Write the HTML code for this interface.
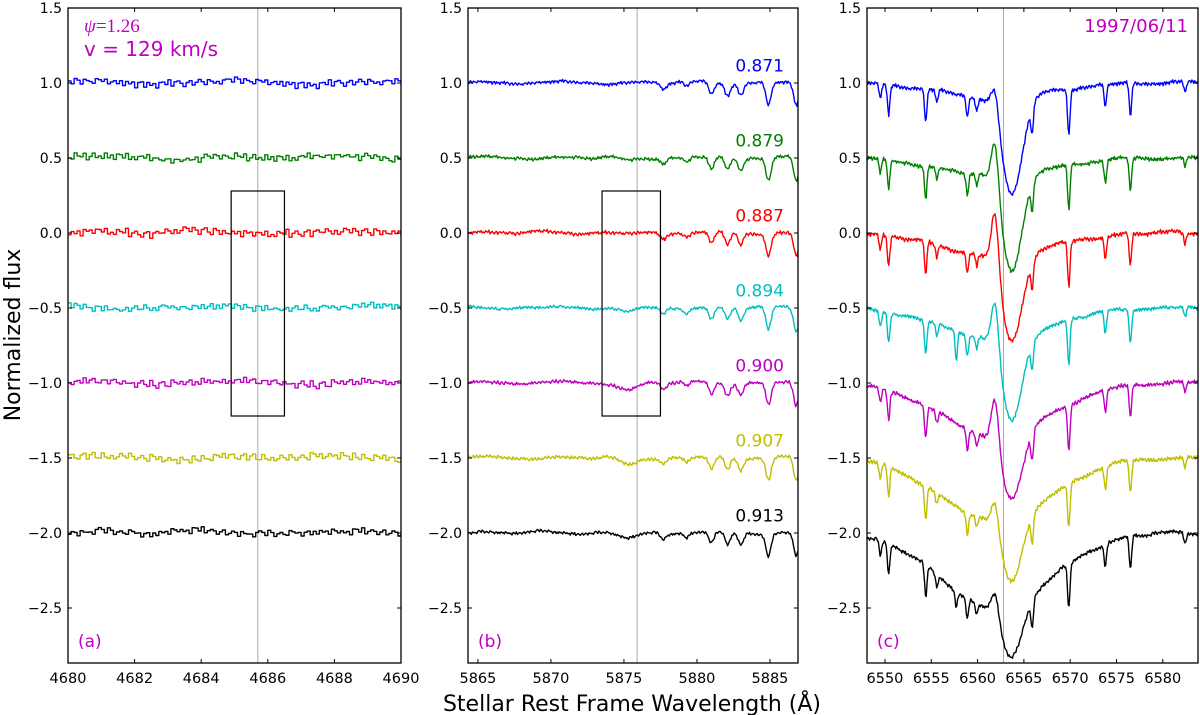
<!DOCTYPE html>
<html><head><meta charset="utf-8">
<style>
body{margin:0;background:#fff;}
svg{display:block;font-family:"DejaVu Sans","Liberation Sans",sans-serif;}
</style></head>
<body>
<svg id="fig" width="1200" height="715" viewBox="0 0 1200 715" xmlns="http://www.w3.org/2000/svg">
<rect width="1200" height="715" fill="#fff"/>
<g id="plots"></g>
<text x="14" y="335" transform="rotate(-90 14 335)" text-anchor="middle" dominant-baseline="middle" font-size="22">Normalized flux</text>
<text x="632" y="711" text-anchor="middle" font-size="22">Stellar Rest Frame Wavelength (Å)</text>
<text x="84" y="32" font-family="Liberation Serif,serif" font-style="italic" font-size="19" fill="#bf00bf">ψ<tspan font-style="normal">=1.26</tspan></text>
<text x="84" y="56" font-size="20" fill="#bf00bf">v = 129 km/s</text>
<text x="1188" y="32" text-anchor="end" font-size="18" fill="#bf00bf">1997/06/11</text>
</svg>
<script>
// ---- data ----
const offsets = [1.0, 0.5, 0.0, -0.5, -1.0, -1.5, -2.0];
const colors = ["#0000ff","#008000","#ff0000","#00bfbf","#bf00bf","#bfbf00","#000000"];
const phases = ["0.871","0.879","0.887","0.894","0.900","0.907","0.913"];
const yTicks = [1.5, 1.0, 0.5, 0.0, -0.5, -1.0, -1.5, -2.0, -2.5];
const yTickLabels = ["1.5","1.0","0.5","0.0","\u22120.5","\u22121.0","\u22121.5","\u22122.0","\u22122.5"];
const ticksA = [4680,4682,4684,4686,4688,4690];
const ticksB = [5865,5870,5875,5880,5885];
const ticksC = [6550,6555,6560,6565,6570,6575,6580];
// hand-read small noise pattern (units of amplitude)
const jitter = [0.3,-0.5,0.8,0.1,-0.9,0.4,0.6,-0.2,-0.7,0.9,0.2,-0.4,0.5,-0.8,0.0,0.7,-0.3,0.4,-0.6,0.9,-0.1,0.3,-0.9,0.5,0.2,-0.5,0.8,-0.3,0.1,-0.7,0.6,0.3,-0.4,0.9,-0.8,0.2,0.5,-0.1,-0.6,0.4,0.7,-0.9,0.1,0.6,-0.3,-0.5,0.8,0.0,-0.2,0.4,-0.7,0.3,0.9];
// slow wander pattern (units of amplitude)
const wander = [0.2,0.6,0.1,-0.5,-0.3,0.4,0.8,0.3,-0.2,-0.7,-0.1,0.5,0.2,-0.4,0.6,0.9,0.1,-0.6,-0.2,0.3];
// panel b telluric/stellar lines
const bLineCenters = [5877.7, 5879.3, 5881.0, 5882.1, 5883.0, 5884.9, 5886.8];
const bLineDepths  = [0.04, 0.03, 0.08, 0.08, 0.08, 0.15, 0.16];
const bHeDepth = [0.0, 0.02, 0.01, 0.03, 0.05, 0.05, 0.04];
// panel c narrow lines
const cLineCenters = [6549.5, 6550.4, 6554.4, 6555.6, 6558.9, 6559.9, 6565.9, 6569.85, 6573.8, 6576.5, 6582.4];
const cLineDepths  = [0.1, 0.2, 0.22, 0.08, 0.14, 0.08, 0.18, 0.3, 0.15, 0.22, 0.07];
const cExtra57 = [0.0, 0.0, 0.0, 0.2, 0.0, 0.0, 0.1];
// H-alpha components per spectrum
const broadDepth = [0.1, 0.12, 0.15, 0.2, 0.35, 0.42, 0.5];
const emisHeight = [0.2, 0.36, 0.41, 0.36, 0.34, 0.21, 0.17];
const absDepth   = [0.65, 0.63, 0.58, 0.56, 0.44, 0.41, 0.35];

// ---- layout ----
const NS="http://www.w3.org/2000/svg";
const root=document.getElementById('plots');
const TOP=8, BOT=663;
function yS(v){return TOP+(1.5-v)*150;}
function mk(tag,attrs,parent){const e=document.createElementNS(NS,tag);for(const k in attrs)e.setAttribute(k,attrs[k]);(parent||root).appendChild(e);return e;}
const g=(l,c,s)=>Math.exp(-((l-c)*(l-c))/(2*s*s));

const panels=[
 {id:'a',x0:68,x1:401,xmin:4680,xmax:4690,ticks:ticksA,vline:4685.7,box:[4684.9,4686.5],n:110,step:true,amp:0.022,wamp:0.02,wlen:9},
 {id:'b',x0:468,x1:798,xmin:5864.32,xmax:5886.92,ticks:ticksB,vline:5875.9,box:[5873.5,5877.5],n:300,step:false,amp:0.01,wamp:0.015,wlen:14},
 {id:'c',x0:867,x1:1198,xmin:6548.06,xmax:6583.8,ticks:ticksC,vline:6562.8,box:null,n:380,step:false,amp:0.012,wamp:0.015,wlen:14}
];

function wand(p,k,i){
  const t=(i+k*5*p.wlen)/p.wlen;
  const a=Math.floor(t), f=t-a;
  const w0=wander[a%wander.length], w1=wander[(a+1)%wander.length];
  return (w0+(w1-w0)*f)*p.wamp;
}

function flux(p,k,l,i){
  const j=jitter[(i+k*7)%jitter.length]*p.amp+jitter[(i*3+k*11)%jitter.length]*p.amp*0.5+wand(p,k,i);
  let f=offsets[k]+j;
  if(p.id==='b'){
    for(let m=0;m<bLineCenters.length;m++) f-=bLineDepths[m]*g(l,bLineCenters[m],0.18);
    f-=bHeDepth[k]*g(l,5875.3,0.6);
  } else if(p.id==='c'){
    for(let m=0;m<cLineCenters.length;m++) f-=cLineDepths[m]*g(l,cLineCenters[m],0.13);
    f-=cExtra57[k]*g(l,6557.7,0.12);
    f-=broadDepth[k]*g(l,6562,6);
    f+=emisHeight[k]*g(l,6561.9,0.4);
    f-=absDepth[k]*g(l,6563.7,1.1);
  }
  return f;
}

panels.forEach(p=>{
  const xs=v=>p.x0+(v-p.xmin)/(p.xmax-p.xmin)*(p.x1-p.x0);
  const pg=mk('g',{});
  
  
  const cid='clip'+p.id;
  const cp=mk('clipPath',{id:cid},pg);
  mk('rect',{x:p.x0,y:TOP,width:p.x1-p.x0,height:BOT-TOP},cp);
  const vl=mk('line',{x1:xs(p.vline),x2:xs(p.vline),y1:TOP,y2:BOT,stroke:'#aaa','stroke-width':1},pg);
  
  
  const sg=mk('g',{'clip-path':'url(#'+cid+')'},pg);
  offsets.forEach((o,k)=>{
    let d='';
    const dl=(p.xmax-p.xmin)/p.n;
    for(let i=0;i<=p.n;i++){
      const l=p.xmin+i*dl;
      const X=xs(l), Y=yS(flux(p,k,l,i));
      if(p.step){
        if(i===0) d+='M'+X.toFixed(1)+' '+Y.toFixed(1);
        else d+='H'+X.toFixed(1)+'V'+Y.toFixed(1);
      } else d+=(i?'L':'M')+X.toFixed(1)+' '+Y.toFixed(1);
    }
    const path=mk('path',{d:d,fill:'none',stroke:colors[k],'stroke-width':1.4,'stroke-linejoin':'round'},sg);
    
    
  });
  if(p.box){
    const r=mk('rect',{x:xs(p.box[0]),y:yS(0.28),width:xs(p.box[1])-xs(p.box[0]),height:yS(-1.22)-yS(0.28),fill:'none',stroke:'#000','stroke-width':1.2},pg);
    
    
  }
  const fr=mk('rect',{x:p.x0,y:TOP,width:p.x1-p.x0,height:BOT-TOP,fill:'none',stroke:'#000','stroke-width':1.3},pg);
  
  
  yTicks.forEach((v,i)=>{
    const Y=yS(v);
    mk('line',{x1:p.x0,x2:p.x0+4,y1:Y,y2:Y,stroke:'#000'},pg);
    mk('line',{x1:p.x1,x2:p.x1-4,y1:Y,y2:Y,stroke:'#000'},pg);
    const t=mk('text',{x:p.x0-6,y:Y+5,'text-anchor':'end','font-size':14},pg);
    t.textContent=yTickLabels[i];
    
    
  });
  p.ticks.forEach(v=>{
    const X=xs(v);
    mk('line',{x1:X,x2:X,y1:BOT,y2:BOT-4,stroke:'#000'},pg);
    mk('line',{x1:X,x2:X,y1:TOP,y2:TOP+4,stroke:'#000'},pg);
    const t=mk('text',{x:X,y:BOT+20,'text-anchor':'middle','font-size':14.5},pg);
    t.textContent=String(v);
    
    
  });
  const pl=mk('text',{x:p.x0+10,y:BOT-16,'font-size':17,fill:'#bf00bf'},pg);
  pl.textContent='('+p.id+')';
  
  
  if(p.id==='b'){
    offsets.forEach((o,k)=>{
      const t=mk('text',{x:784,y:yS(o+0.125)+7,'text-anchor':'end','font-size':17,fill:colors[k]},pg);
      t.textContent=phases[k];
      
      
    });
  }
});
</script>
</body></html>
